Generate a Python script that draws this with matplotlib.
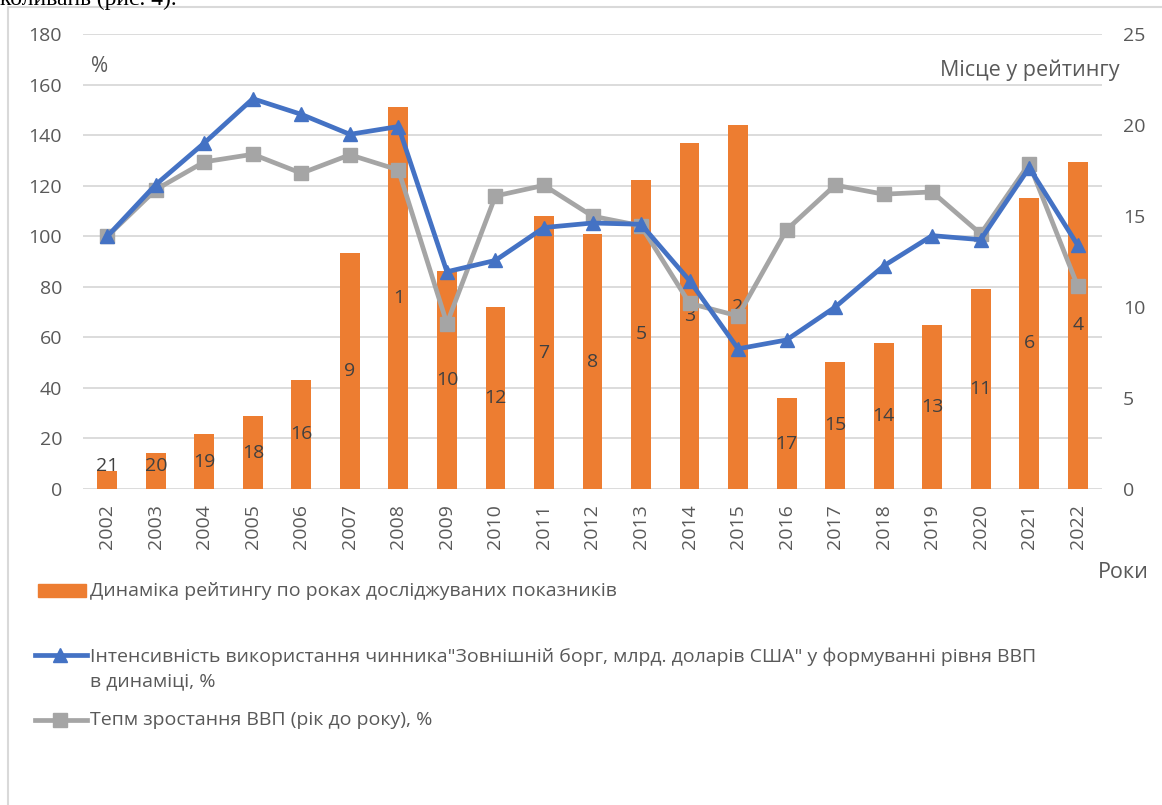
#!/usr/bin/env python3
"""
Rating dynamics vs external debt intensity and GDP growth, 2002-2022
"""

import matplotlib
matplotlib.use("Agg")
import matplotlib.pyplot as plt
from matplotlib.lines import Line2D
from matplotlib.patches import Rectangle

# ---- data -------------------------------------------------------------
years = [str(y) for y in range(2002, 2023)]
rating_place = [21, 20, 19, 18, 16, 9, 1, 10, 12, 7, 8, 5, 3, 2, 17, 15, 14, 13, 11, 6, 4]
# bar height in the original is drawn inverted: 22 - place
bar_height = [22 - p for p in rating_place]
debt_intensity = [100, 120.5, 137, 154.5, 148.3, 140.4, 143.5, 86, 90.5, 103.5, 105.3,
                  104.8, 82.5, 55.5, 59, 72, 88.3, 100.3, 98.7, 127.2, 96.5]
gdp_growth = [100, 118.5, 129.5, 132.5, 125, 132.3, 126.3, 65.5, 116, 120.2, 108,
              104.2, 73.5, 68.5, 102.6, 120.3, 116.7, 117.6, 101, 128.8, 80.3]

left_ticks = list(range(0, 181, 20))
right_ticks = list(range(0, 26, 5))

bar_label = "Динаміка рейтингу по роках досліджуваних показників"
blue_label = ("Інтенсивність використання чинника\"Зовнішній борг, млрд. доларів США\" "
              "у формуванні рівня ВВП\nв динаміці, %")
gray_label = "Тепм зростання ВВП (рік до року), %"

# ---- style --------------------------------------------------------------
ORANGE = "#ED7D31"
BLUE = "#4472C4"
GRAY = "#A5A5A5"
TXT = "#595959"
GRID = "#D9D9D9"
FONT = ["Open Sans", "DejaVu Sans"]
FS = 14

plt.rcParams["font.family"] = FONT

W, H = 1162, 805
fig = plt.figure(figsize=(W / 100, H / 100), dpi=100)

def px(x, y):
    return x / W, 1 - y / H

rect = [83 / W, 1 - 489 / H, (1102 - 83) / W, (489 - 34.3) / H]

# background axes: left scale, gridlines
ax = fig.add_axes(rect)
ax.set_xlim(-0.5, len(years) - 0.5)
ax.set_ylim(0, 180)
ax.set_yticks(left_ticks)
ax.grid(axis="y", color=GRID, linewidth=1.3)
ax.set_axisbelow(True)
ax.set_xticks(range(len(years)))
ax.set_xticklabels(years, rotation=90)
ax.tick_params(axis="both", length=0, colors=TXT, labelsize=FS)
ax.tick_params(axis="y", pad=15)
ax.tick_params(axis="x", pad=11)
for s in ax.spines.values():
    s.set_visible(False)

# bars on right scale
axb = ax.twinx()
axb.set_ylim(0, 25)
axb.set_yticks(right_ticks)
axb.tick_params(axis="y", length=0, colors=TXT, labelsize=FS, pad=15)
for s in axb.spines.values():
    s.set_visible(False)
axb.bar(range(len(years)), bar_height, width=0.41, color=ORANGE, zorder=2)
for i, (h, p) in enumerate(zip(bar_height, rating_place)):
    axb.text(i, max(h / 2, 1.25), str(p), ha="center", va="center",
             fontsize=FS, color="#404040", zorder=3)

# lines on top, sharing the left scale
axl = fig.add_axes(rect, sharex=ax, sharey=ax)
axl.patch.set_visible(False)
axl.axis("off")
axl.plot(range(len(years)), debt_intensity, color=BLUE, linewidth=3.4,
         marker="^", markersize=10.5, solid_joinstyle="round", zorder=4)
axl.plot(range(len(years)), gdp_growth, color=GRAY, linewidth=3.4,
         marker="s", markersize=9.5, solid_joinstyle="round", zorder=3)

# axis titles
fig.text(*px(100, 67), "%", ha="center", va="center", fontsize=15, color=TXT)
fig.text(*px(1120, 70), "Місце у рейтингу", ha="right", va="center", fontsize=15.5, color=TXT)
fig.text(*px(1149, 573), "Роки", ha="right", va="center", fontsize=15.5, color=TXT)

# legend drawn by hand (uneven spacing as in the original)
fig.add_artist(Rectangle(px(38, 597), 48 / W, 13 / H, transform=fig.transFigure,
                         color=ORANGE))
fig.text(*px(90, 591), bar_label, ha="left", va="center", fontsize=FS, color=TXT)

x0, x1 = px(35, 0)[0], px(87, 0)[0]
yb = px(0, 655)[1]
fig.add_artist(Line2D([x0, x1], [yb, yb], transform=fig.transFigure,
                      color=BLUE, linewidth=3.4))
fig.add_artist(Line2D([px(60, 0)[0]], [yb], transform=fig.transFigure,
                      color=BLUE, marker="^", markersize=10.5))
fig.text(*px(90, 669), blue_label, ha="left", va="center", fontsize=FS, color=TXT,
         linespacing=1.45)

yg = px(0, 720)[1]
fig.add_artist(Line2D([x0, x1], [yg, yg], transform=fig.transFigure,
                      color=GRAY, linewidth=3.4))
fig.add_artist(Line2D([px(60, 0)[0]], [yg], transform=fig.transFigure,
                      color=GRAY, marker="s", markersize=9.5))
fig.text(*px(90, 720), gray_label, ha="left", va="center", fontsize=FS, color=TXT)

# chart frame (left and top edges visible)
fig.add_artist(Line2D([px(7.5, 0)[0], px(7.5, 0)[0], 1.0],
                      [0.0, px(0, 7.5)[1], px(0, 7.5)[1]],
                      transform=fig.transFigure, color=GRID, linewidth=1.5))

# line of body text above the chart (cut by the page edge in the original)
fig.text(*px(0, 5), "коливань (рис. 4).", ha="left", va="baseline",
         fontsize=17, family="Liberation Serif", color="black")

fig.savefig("out.png", dpi=100)
